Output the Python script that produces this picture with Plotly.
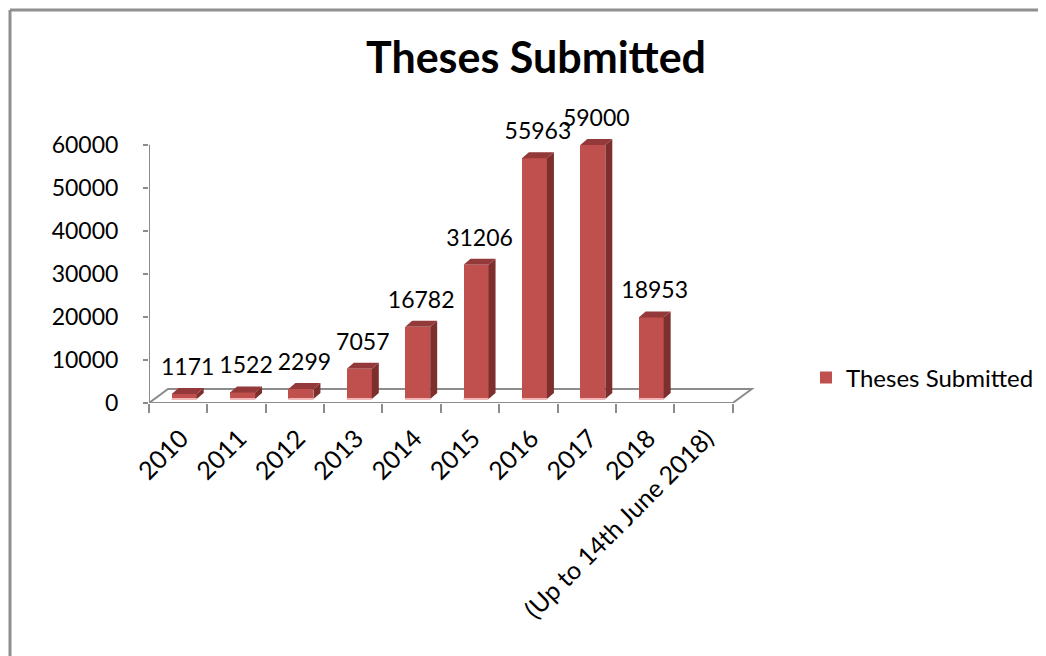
import plotly.graph_objects as go

# data
categories = ["2010", "2011", "2012", "2013", "2014", "2015", "2016", "2017", "2018",
              "(Up to 14th June 2018)"]
theses = [1171, 1522, 2299, 7057, 16782, 31206, 55963, 59000, 18953]
y_ticks = [0, 10000, 20000, 30000, 40000, 50000, 60000]

W, H = 1046, 656
OFF = 8                      # page body margin around the figure
PLOT_W, PLOT_H = 610, 284
LEFT, TOP = 149 - OFF, 119 - OFF
RIGHT, BOTTOM = W - LEFT - PLOT_W, H - TOP - PLOT_H
X_MAX = 10.45
Y_MAX = 66000
sx = PLOT_W / X_MAX   # px per category slot
sy = PLOT_H / Y_MAX   # px per thesis


def ux(px):
    return px / sx


def uy(px):
    return px / sy


def paper_x(px):
    # px measured on the page
    return (px - OFF - LEFT) / PLOT_W


def paper_y(px):
    return (TOP + PLOT_H - (px - OFF)) / PLOT_H


# fake 3d depth (Excel style column chart)
floor_dx, floor_dy = ux(19), uy(14)
bar_dx, bar_dy = ux(6), uy(4)
side_dx, side_dy = ux(7), uy(6)
bar_w = ux(25)

FRONT = "#C0504D"
SIDE = "#7D2F2D"
TOPC = "#93393A"
GREY = "#8C8C8C"
FONT = "Lato"

n = len(categories)
centers = [i + 0.5 for i in range(len(theses))]
lefts = [c + bar_dx - bar_w / 2 for c in centers]
rights = [c + bar_dx + bar_w / 2 for c in centers]

side_x, side_y, top_x, top_y, base_x, base_y = [], [], [], [], [], []
for xl, xr, v in zip(lefts, rights, theses):
    b0, t = bar_dy, bar_dy + v
    side_x += [xr, xr + side_dx, xr + side_dx, xr, xr, None]
    side_y += [b0, b0 + side_dy, t + side_dy, t, b0, None]
    top_x += [xl, xr, xr + side_dx, xl + side_dx, xl, None]
    top_y += [t, t, t + side_dy, t + side_dy, t, None]
    base_x += [xl, xr, None]
    base_y += [b0, b0, None]

fig = go.Figure()

fig.add_trace(go.Bar(
    x=[c + bar_dx for c in centers], y=theses, base=bar_dy, width=bar_w,
    marker=dict(color=FRONT, line=dict(width=0)),
    name="Theses Submitted", hoverinfo="skip",
))
fig.add_trace(go.Scatter(x=side_x, y=side_y, mode="lines", fill="toself",
                         fillcolor=SIDE, line=dict(width=0, color=SIDE),
                         showlegend=False, hoverinfo="skip"))
fig.add_trace(go.Scatter(x=top_x, y=top_y, mode="lines", fill="toself",
                         fillcolor=TOPC, line=dict(width=0, color=TOPC),
                         showlegend=False, hoverinfo="skip"))
fig.add_trace(go.Scatter(x=base_x, y=base_y, mode="lines",
                         line=dict(width=2, color="#F2B8B7"),
                         showlegend=False, hoverinfo="skip"))

# value labels (on the overlay axis so they sit on top)
fig.add_trace(go.Scatter(
    x=[c + bar_dx + side_dx / 2 for c in centers],
    y=[bar_dy + v + side_dy for v in theses],
    mode="markers+text", text=[str(v) for v in theses],
    textposition="top center", cliponaxis=False,
    marker=dict(size=10, opacity=0),
    textfont=dict(family=FONT, size=23, color="black"),
    xaxis="x2", showlegend=False, hoverinfo="skip",
))

# floor and vertical axis line
fig.add_shape(type="path", xref="x", yref="y", layer="below",
              path=f"M 0,0 L {n},0 L {n + floor_dx},{floor_dy} L {floor_dx},{floor_dy} Z",
              line=dict(color=GREY, width=2))
fig.add_shape(type="line", xref="x", yref="y", layer="below",
              x0=0, x1=0, y0=0, y1=y_ticks[-1], line=dict(color=GREY, width=2))

# chart area border (top and left edges visible)
fig.add_shape(type="line", xref="paper", yref="paper",
              x0=paper_x(10), x1=paper_x(W + 20), y0=paper_y(10), y1=paper_y(10),
              line=dict(color="#8F8F8F", width=3))
fig.add_shape(type="line", xref="paper", yref="paper",
              x0=paper_x(10), x1=paper_x(10), y0=paper_y(10), y1=paper_y(H + 20),
              line=dict(color="#8F8F8F", width=3))

fig.update_layout(
    width=W, height=H,
    margin=dict(l=LEFT, r=RIGHT, t=TOP, b=BOTTOM, autoexpand=False),
    paper_bgcolor="white", plot_bgcolor="white",
    title=dict(text="Theses Submitted", x=(536 - OFF) / W, xanchor="center",
               y=1 - (58 - OFF) / H, yanchor="middle",
               font=dict(family=FONT, size=43, color="black", weight="bold")),
    showlegend=True,
    legend=dict(x=paper_x(806), y=paper_y(378), xanchor="left", yanchor="middle",
                font=dict(family=FONT, size=24, color="black"),
                bgcolor="rgba(0,0,0,0)"),
    bargap=0,
    xaxis=dict(range=[0, X_MAX], tickvals=[c + 0.55 for c in range(n)],
               ticktext=categories, tickangle=-45, ticks="",
               showline=False, showgrid=False, zeroline=False,
               ticklabelstandoff=15,
               tickfont=dict(family=FONT, size=25, color="black")),
    xaxis2=dict(range=[0, X_MAX], overlaying="x", anchor="y", side="bottom",
                tickvals=list(range(n + 1)), ticks="outside", ticklen=9,
                tickwidth=2, tickcolor=GREY, showticklabels=False,
                showline=False, showgrid=False, zeroline=False),
    yaxis=dict(range=[0, Y_MAX], tickvals=y_ticks, tickformat="d",
               ticks="outside", ticklen=5,
               tickwidth=2, tickcolor=GREY, showline=False, showgrid=False,
               zeroline=False, ticklabelstandoff=20,
               tickfont=dict(family=FONT, size=23, color="black")),
)

fig.write_html("out.html")
